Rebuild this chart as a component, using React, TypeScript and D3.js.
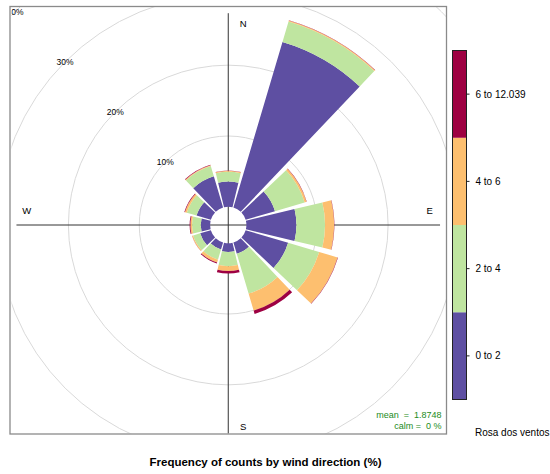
import React from "react";
import * as d3 from "d3";

// Wind rose: frequency (%) of counts by wind direction, stacked by speed bin
const directions = [0, 30, 60, 90, 120, 150, 180, 210, 240, 270, 300, 330];
const speedBins = ["0 to 2", "2 to 4", "4 to 6", "6 to 12.039"];
const freq0to2 = [3.58, 24.39, 4.32, 7.06, 6.25, 1.68, 1.25, 1.04, 1.58, 1.32, 2.11, 4.61];
const freq2to4 = [1.36, 3.0, 4.36, 4.04, 4.57, 5.86, 2.0, 1.5, 1.03, 1.22, 1.43, 1.5];
const freq4to6 = [0.14, 0.15, 0.28, 1.29, 2.72, 2.5, 0.67, 0.42, 0.14, 0.24, 0.28, 0.14];
const freq6to12 = [0.04, 0.04, 0.04, 0.04, 0.06, 0.5, 0.37, 0.14, 0.02, 0.11, 0.08, 0.07];
const binColours = ["#5E4FA2", "#BFE5A0", "#FDBF6F", "#9E0142"];
const gridLevels = [10, 20, 30, 40];
const compassLabels = ["N", "E", "S", "W"];
const meanSpeed = "1.8748";
const calmPercent = "0";
const titleText = "Frequency of counts by wind direction (%)";
const legendTitle = "Rosa dos ventos";

const W = 550;
const H = 474;
const panel = { x0: 10, y0: 6.5, x1: 446.5, y1: 434 };
const cx = 228.25;
const cy = 225;
const axisExtent = 27.33; // % reached by the cross-hair axes
const petalHalf = 13.5; // degrees (90% of each 30-degree sector)

const font = "'Liberation Sans', Arial, Helvetica, sans-serif";

export default function App() {
  const series = [freq0to2, freq2to4, freq4to6, freq6to12];
  // radial scale with a central hole for 0 %
  const r = d3.scaleLinear().domain([0, 40]).range([18.15, 301.55]);
  const rad = (deg: number) => (deg * Math.PI) / 180;

  // stacked bands for each direction
  const bands: { d: string; fill: string }[] = [];
  directions.forEach((dir, i) => {
    let cum = 0;
    series.forEach((s, b) => {
      const lo = cum;
      cum += s[i];
      const arc = d3
        .arc()
        .innerRadius(r(lo))
        .outerRadius(r(cum))
        .startAngle(rad(dir - petalHalf))
        .endAngle(rad(dir + petalHalf));
      bands.push({ d: arc({} as any) as string, fill: binColours[b] });
    });
  });

  const axisLen = r(axisExtent);
  const labelR = 201.5;
  const compassPos: Record<string, [number, number]> = {
    N: [cx + 15, cy - labelR],
    E: [cx + labelR, cy - 14.7],
    S: [cx + 15, cy + labelR],
    W: [cx - labelR, cy - 14.7],
  };

  // legend colour bar
  const barX = 452.5;
  const barW = 14;
  const barTop = 50.5;
  const barBottom = 399.5;
  const seg = d3
    .scaleBand()
    .domain(speedBins.slice().reverse())
    .range([barTop, barBottom])
    .paddingInner(0);

  return (
    <svg
      width={W}
      height={H}
      viewBox={`0 0 ${W} ${H}`}
      style={{ position: "absolute", left: 0, top: 0, background: "#fff" }}
      fontFamily={font}
    >
      <defs>
        <clipPath id="panel-clip">
          <rect x={panel.x0 + 1.5} y={panel.y0 + 0.5} width={panel.x1 - panel.x0 - 2} height={panel.y1 - panel.y0 - 1} />
        </clipPath>
      </defs>
      <rect width={W} height={H} fill="#fff" />

      <g clipPath="url(#panel-clip)">
        {gridLevels.map((g) => (
          <circle key={g} cx={cx} cy={cy} r={r(g)} fill="none" stroke="#d9d9d9" strokeWidth={1} />
        ))}
        {gridLevels.map((g) => (
          <text
            key={"l" + g}
            x={cx - r(g) * Math.SQRT1_2}
            y={cy - r(g) * Math.SQRT1_2}
            fontSize={8.5}
            textAnchor="middle"
            dominantBaseline="central"
            fill="#000"
          >
            {g}%
          </text>
        ))}

        {/* axes through the centre */}
        <line x1={cx - axisLen} x2={cx + axisLen} y1={cy} y2={cy} stroke="#333" strokeWidth={1} />
        <line x1={cx} x2={cx} y1={cy - axisLen} y2={cy + axisLen} stroke="#333" strokeWidth={1} />

        <g transform={`translate(${cx},${cy})`}>
          {bands.map((b, i) => (
            <path key={i} d={b.d} fill={b.fill} />
          ))}
        </g>

        {compassLabels.map((c) => (
          <text
            key={c}
            x={compassPos[c][0]}
            y={compassPos[c][1]}
            fontSize={9.5}
            textAnchor="middle"
            dominantBaseline="central"
            fill="#000"
          >
            {c}
          </text>
        ))}

        <text x={441.5} y={418} fontSize={9} textAnchor="end" fill="#228B22" style={{ whiteSpace: "pre" }}>
          {`mean  =  ${meanSpeed}`}
        </text>
        <text x={441.5} y={429} fontSize={9} textAnchor="end" fill="#228B22" style={{ whiteSpace: "pre" }}>
          {`calm =  ${calmPercent} %`}
        </text>
      </g>

      <rect
        x={panel.x0}
        y={panel.y0}
        width={panel.x1 - panel.x0}
        height={panel.y1 - panel.y0}
        fill="none"
        stroke="#8a8a8a"
        strokeWidth={1.3}
      />

      {/* colour key */}
      {speedBins.map((bin, i) => (
        <rect key={bin} x={barX} y={seg(bin)} width={barW} height={seg.bandwidth()} fill={binColours[i]} />
      ))}
      <rect x={barX} y={barTop} width={barW} height={barBottom - barTop} fill="none" stroke="#222" strokeWidth={1} />
      {speedBins.map((bin) => {
        const y = (seg(bin) as number) + seg.bandwidth() / 2;
        return (
          <g key={"t" + bin}>
            <line x1={barX + barW} x2={barX + barW + 3} y1={y} y2={y} stroke="#222" />
            <text x={475.5} y={y} fontSize={10} dominantBaseline="central" fill="#000">
              {bin}
            </text>
          </g>
        );
      })}
      <text x={475} y={435.5} fontSize={10} fill="#000">
        {legendTitle}
      </text>

      <text x={265.5} y={465.5} fontSize={11.5} fontWeight="bold" textAnchor="middle" fill="#000">
        {titleText}
      </text>
    </svg>
  );
}
